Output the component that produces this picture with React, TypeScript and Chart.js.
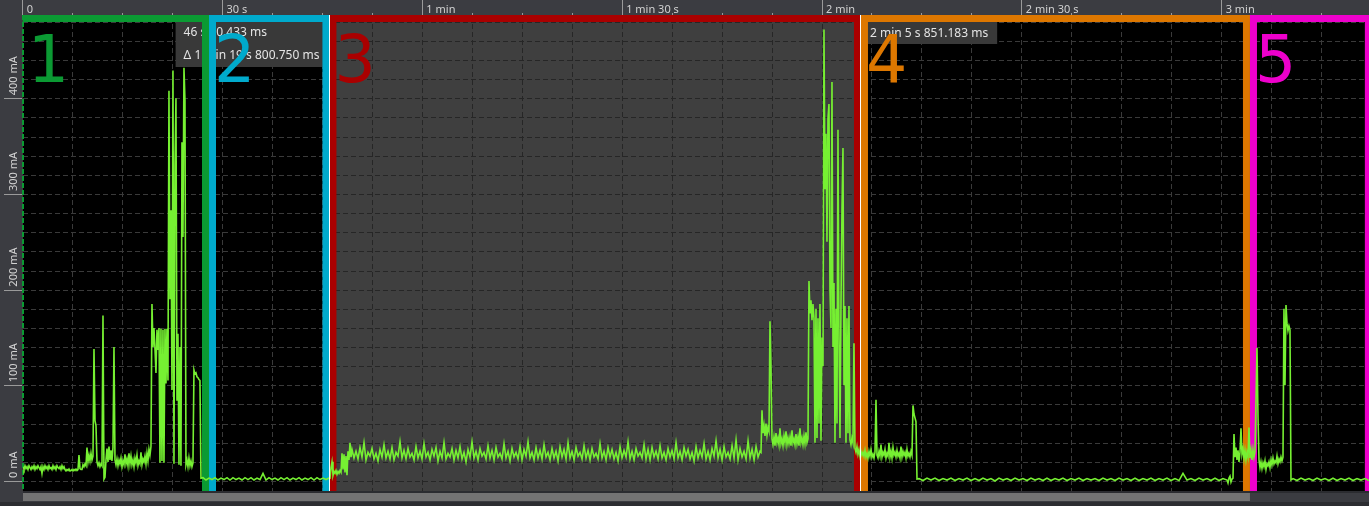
import React, { useEffect, useRef } from "react";
import { Chart, registerables } from "chart.js";

Chart.register(...registerables);

// ---------- axis ticks ----------
const majorTickSeconds = [0, 30, 60, 90, 120, 150, 180];
const majorTickLabels = ["0", "30 s", "1 min", "1 min 30 s", "2 min", "2 min 30 s", "3 min"];
const minorTickStep = 7.5;
const yTickValues = [0, 100, 200, 300, 400];
const yTickLabels = ["0 mA", "100 mA", "200 mA", "300 mA", "400 mA"];
const yGridStep = 20;

// ---------- regions ----------
const regionStarts = [0, 27.97, 46.05, 125.85, 184.25];
const regionEnds = [27.97, 46.05, 125.85, 184.25, 202.55];
const regionLabels = ["1", "2", "3", "4", "5"];
const regionColors = ["#0b9a33", "#00aacc", "#aa0000", "#dd7700", "#ee00cc"];
const regionShaded = [false, false, true, false, false];

// ---------- cursors ----------
const cursorTimes = [46.050433, 125.851183];

// ---------- current trace (mA), sampled segments: start time (s), sample step (s) ----------
const seg1Start = 0.045;
const seg1Step = 0.1501;
const seg1Values = [
  15, 12, 16, 13, 15, 12, 16, 14, 12, 15, 13, 16, 12, 15, 13, 16, 14, 12, 15,
  8,
  15, 12, 16, 13, 15, 12, 16, 13, 14, 12, 16, 13, 15, 12, 16, 14, 13, 15, 12, 16, 13, 15,
  12, 10.5, 12, 11, 12.5, 10.5, 11, 12, 10.5, 12, 11, 12.5, 11,
  12, 27,
  13, 12, 12,
  17, 15, 18, 16, 35,
  20, 27, 21, 29, 22, 26,
  138, 63, 58, 20,
  16, 19, 15, 18, 16,
  173, 2, 4,
  22, 34, 20, 36, 22, 32, 21, 35,
  140, 22,
  17, 23, 16, 22, 18, 24, 15, 21, 17, 28, 18, 23, 16, 29, 18, 26, 17, 22, 15, 24, 19, 27, 16, 21, 18, 30, 17, 23, 20, 26, 18, 29,
  21, 33, 27, 36,
  185, 140, 160, 138, 113, 158, 137, 160, 19, 159, 21, 158, 19, 159, 102, 159, 105, 408, 190, 283,
  95, 429, 18, 330, 400, 84, 154, 17, 140, 16, 354, 255, 432, 398, 17, 22, 15, 24, 16, 21,
  15, 19, 116, 112, 113, 109, 108, 106, 105,
  3,
];

const seg2Start = 27.068;
const seg2Step = 0.4504;
const seg2Values = [
  3.5, 1, 3, 1.5, 3.5, 1, 3, 1.5, 3.5, 1, 3.5, 1.5, 3, 1, 3.5, 1.5, 3.5, 1, 3, 1.5,
  8, 1, 3.5, 1.5, 3, 1, 3.5, 1.5, 3.5, 1, 3, 1.5, 3.5, 1, 3, 1.5, 3.5, 1, 3.5, 1.5,
  3, 1.5, 3,
];

const seg3Start = 46.135;
const seg3Step = 0.1501;
const seg3Values = [3, 14, 20, 6, 10, 8, 11, 7, 10, 8, 11, 9, 29, 12, 28, 9, 26, 6, 31, 22, 40, 25];

const seg4Start = 49.438;
const seg4Step = 0.3003;
const seg4Values = [
  33, 24, 31, 23, 35, 25, 40, 22, 30, 26,
  34, 23, 29, 21, 33, 25, 38, 24, 31, 23,
  35, 22, 30, 26, 41, 24, 32, 23, 34, 25,
  29, 22, 36, 24, 31, 23, 39, 25, 30, 22,
  33, 26, 35, 21, 31, 24, 40, 23, 29, 25,
  34, 22, 32, 24, 36, 23, 30, 20, 33, 25,
  41, 24, 31, 22, 34, 26, 30, 23, 37, 24,
  32, 22, 35, 25, 29, 23, 39, 24, 31, 21,
  34, 25, 30, 23, 36, 22, 33, 26, 41, 24,
  30, 22, 35, 24, 32, 23, 38, 25, 30, 22,
  34, 24, 31, 21, 36, 25, 33, 23, 40, 24,
  31, 22, 35, 26, 30, 23, 37, 24, 32, 22,
  34, 25, 29, 23, 39, 24, 31, 22, 35, 25,
  33, 23, 30, 21, 36, 24, 32, 25, 41, 23,
  31, 22, 34, 26, 30, 24, 38, 23, 33, 22,
  35, 25, 31, 23, 37, 24, 30, 22, 34, 25,
  32, 23, 40, 24, 31, 22, 35, 26, 33, 23,
  30, 21, 36, 24, 32, 25, 39, 23, 31, 22,
  34, 26, 42, 24, 33, 22, 36, 25, 30, 23,
  37, 24, 43, 22, 34, 25, 31, 23, 42, 24,
  33, 22, 36, 25, 31,
];

const seg5Start = 110.84;
const seg5Step = 0.1501;
const seg5Values = [
  30,
  74, 50, 58, 47, 60, 48, 56, 52, 167, 118,
  44, 38, 46, 37, 50, 40, 45, 38, 55, 39, 44, 37, 47, 40, 52, 38, 45, 39, 46, 37,
  53, 40, 44, 38, 49, 39, 46, 37, 55, 40, 45, 38, 47, 39, 51, 40, 44,
  209, 175, 189, 168, 185, 170, 40, 180, 45, 170,
  60, 185, 42, 150, 120, 472, 305, 363, 250, 379,
  394, 200, 160, 417, 140, 207, 40, 180, 60, 367,
  150, 45, 185, 284, 348, 100, 183, 40, 170, 50,
  183, 43, 38, 45, 40,
  144, 34, 30, 36, 28, 33, 26, 31, 27,
];

const seg6Start = 126.154;
const seg6Step = 0.1501;
const seg6Values = [
  30, 26, 32, 25, 29, 24, 31, 26, 33, 25, 28, 24, 30,
  85,
  27, 24, 31, 26, 38, 25, 30, 27, 33, 24, 29, 26, 40, 25, 31, 24, 35, 27, 30, 25,
  32, 26, 29, 24, 36, 25, 31, 27, 30, 24, 33, 26, 29, 25, 31, 27,
  79, 70, 66, 62,
  2,
];

const seg7Start = 134.561;
const seg7Step = 0.6005;
const seg7Values = [
  2.5, 0.5, 3, 1, 3, 0.5, 2.5, 1, 3, 0.5,
  2.5, 1, 3, 0.5, 2.5, 0.5, 3, 1, 2.5, 0,
  3, 1, 2.5, 0.5, 3, 1, 2.5, 0.5, 3, 1,
  2.5, 0.5, 3, 0.5, 2.5, 1, 3, 0.5, 2.5, 1,
  3, 0.5, 2.5, 1, 2.5, 0.5, 3, 1, 2.5, 0.5,
  3, 1, 2.5, 0.5, 3, 0.5, 2.5, 1, 3, 0.5,
  2.5, 1, 3, 0.5, 2.5, 0.5, 8, 1, 2.5, 0.5,
  3, 1, 2.5, 0.5, 3, 0.5, 2.5, 1,
];

const seg8Start = 180.951;
const seg8Step = 0.1501;
const seg8Values = [
  -2, 3, 5, -1, 2, 3, 49, 25, 35, 22, 32, 20, 30, 55, 28, 34, 24, 32, 22, 30,
  25, 56, 24, 32, 22, 33, 25, 31, 85, 139, 67, 22,
  14, 20, 13, 19, 15, 21, 12, 18, 16, 20, 14, 22, 17, 24, 18, 21, 19, 26, 18, 23, 20, 25, 21,
  25, 180, 100, 184, 165, 157, 162, 158, 1,
];

const seg9Start = 190.71;
const seg9Step = 0.6005;
const seg9Values = [2.5, 0.5, 3, 1, 2.5, 0.5, 3, 1, 2.5, 0.5, 3, 0.5, 2.5, 1, 3, 0.5, 2.5, 1, 2.5, 0.5];

const segments: [number, number, number[]][] = [
  [seg1Start, seg1Step, seg1Values],
  [seg2Start, seg2Step, seg2Values],
  [seg3Start, seg3Step, seg3Values],
  [seg4Start, seg4Step, seg4Values],
  [seg5Start, seg5Step, seg5Values],
  [seg6Start, seg6Step, seg6Values],
  [seg7Start, seg7Step, seg7Values],
  [seg8Start, seg8Step, seg8Values],
  [seg9Start, seg9Step, seg9Values],
];

// ---------- styles ----------
const AXIS_BG = "#3b3c41";
const PLOT_BG = "#000000";
const SHADE_BG = "#3f3f3f";
const GRID_ON_BLACK = "#3a3a3a";
const GRID_ON_SHADE = "#262626";
const TRACE = "rgb(118, 240, 50)";
const TEXT = "#d2d2d2";
const TICK = "#9a9a9a";
const SMALL_FONT = '11px "Noto Sans", "DejaVu Sans", sans-serif';
const TIP_FONT = '12px "Noto Sans", "DejaVu Sans", sans-serif';
const BIG_FONT = '65px "DejaVu Sans", sans-serif';

function formatTime(s: number): string {
  const min = Math.floor(s / 60);
  const sec = Math.floor(s - min * 60);
  const ms = (s - min * 60 - sec) * 1000;
  let out = "";
  if (min > 0) out += `${min} min `;
  out += `${sec} s ${ms.toFixed(3)} ms`;
  return out;
}

function drawGrid(ctx: CanvasRenderingContext2D, ca: any, xs: any, ys: any, color: string) {
  ctx.save();
  ctx.strokeStyle = color;
  ctx.lineWidth = 1;
  ctx.setLineDash([5, 3]);
  ctx.beginPath();
  for (let t = 0; t <= xs.max; t += minorTickStep) {
    const px = Math.floor(xs.getPixelForValue(t)) + 0.5;
    ctx.moveTo(px, ca.top);
    ctx.lineTo(px, ca.bottom);
  }
  for (let v = 0; v <= ys.max; v += yGridStep) {
    const py = Math.round(ys.getPixelForValue(v)) + 0.5;
    ctx.moveTo(ca.left, py);
    ctx.lineTo(ca.right, py);
  }
  ctx.stroke();
  ctx.restore();
}

const profilerPlugin = {
  id: "profilerDecor",
  beforeDraw(chart: any) {
    const { ctx, chartArea: ca } = chart;
    const xs = chart.scales.x;
    const ys = chart.scales.y;
    const W = chart.width;
    const H = chart.height;
    ctx.save();
    // backgrounds
    ctx.fillStyle = AXIS_BG;
    ctx.fillRect(0, 0, W, H);
    ctx.fillStyle = PLOT_BG;
    ctx.fillRect(ca.left, ca.top, ca.right - ca.left, ca.bottom - ca.top);
    drawGrid(ctx, ca, xs, ys, GRID_ON_BLACK);
    regionStarts.forEach((s, i) => {
      if (!regionShaded[i]) return;
      const x0 = xs.getPixelForValue(s);
      const x1 = xs.getPixelForValue(regionEnds[i]);
      ctx.save();
      ctx.beginPath();
      ctx.rect(x0, ca.top, x1 - x0, ca.bottom - ca.top);
      ctx.clip();
      ctx.fillStyle = SHADE_BG;
      ctx.fillRect(x0, ca.top, x1 - x0, ca.bottom - ca.top);
      drawGrid(ctx, ca, xs, ys, GRID_ON_SHADE);
      ctx.restore();
    });

    // top time axis
    ctx.strokeStyle = TICK;
    ctx.lineWidth = 1;
    ctx.beginPath();
    majorTickSeconds.forEach((t) => {
      const px = Math.floor(xs.getPixelForValue(t)) + 0.5;
      ctx.moveTo(px, 0);
      ctx.lineTo(px, 15);
    });
    for (let t = 0; t <= xs.max; t += minorTickStep) {
      const px = Math.floor(xs.getPixelForValue(t)) + 0.5;
      ctx.moveTo(px, 13);
      ctx.lineTo(px, 15);
    }
    ctx.stroke();
    ctx.fillStyle = TEXT;
    ctx.font = SMALL_FONT;
    ctx.textAlign = "left";
    ctx.textBaseline = "alphabetic";
    majorTickSeconds.forEach((t, i) => {
      const px = xs.getPixelForValue(t);
      ctx.fillText(majorTickLabels[i], px + 4, 13);
    });

    // left current axis
    ctx.beginPath();
    yTickValues.forEach((v) => {
      const py = Math.round(ys.getPixelForValue(v)) + 0.5;
      ctx.moveTo(4, py);
      ctx.lineTo(ca.left - 1, py);
    });
    ctx.stroke();
    yTickValues.forEach((v, i) => {
      const py = ys.getPixelForValue(v);
      ctx.save();
      ctx.translate(16.5, py - 3);
      ctx.rotate(-Math.PI / 2);
      ctx.fillText(yTickLabels[i], 0, 0);
      ctx.restore();
    });

    // cursor readouts
    ctx.font = TIP_FONT;
    const xa = xs.getPixelForValue(cursorTimes[0]);
    const xb = xs.getPixelForValue(cursorTimes[1]);
    const l1 = formatTime(cursorTimes[0]);
    const l2 = "Δ " + formatTime(cursorTimes[1] - cursorTimes[0]);
    const l3 = formatTime(cursorTimes[1]);
    const w1 = Math.max(ctx.measureText(l1).width, ctx.measureText(l2).width) + 12;
    const bx1 = xa - 6 - w1;
    ctx.fillStyle = "#393939";
    ctx.fillRect(bx1, 22, w1, 45);
    const w3 = ctx.measureText(l3).width + 12;
    const bx3 = xb + 6;
    ctx.fillRect(bx3, 22, w3, 22);
    ctx.fillStyle = "#e4e4e4";
    ctx.fillText(l1, bx1 + 8, 36);
    ctx.fillText(l2, bx1 + 8, 59);
    ctx.fillText(l3, bx3 + 3, 37);

    // region frames
    const barW = 7;
    const topY = 15;
    regionStarts.forEach((s, i) => {
      const x0 = xs.getPixelForValue(s);
      const x1 = xs.getPixelForValue(regionEnds[i]);
      ctx.fillStyle = regionColors[i];
      ctx.fillRect(x0, topY, x1 - x0, 7);
      if (i > 0) ctx.fillRect(x0, topY, barW, ca.bottom - topY);
      ctx.fillRect(x1 - barW, topY, barW, ca.bottom - topY);
    });
    // region 1 left border (dashed)
    ctx.strokeStyle = regionColors[0];
    ctx.lineWidth = 2;
    ctx.setLineDash([5, 2]);
    ctx.beginPath();
    ctx.moveTo(ca.left, topY);
    ctx.lineTo(ca.left, ca.bottom);
    ctx.stroke();
    ctx.setLineDash([]);
    ctx.restore();
  },
  afterDatasetsDraw(chart: any) {
    const { ctx, chartArea: ca } = chart;
    const xs = chart.scales.x;
    ctx.save();
    // big region numbers
    ctx.font = BIG_FONT;
    ctx.textAlign = "left";
    ctx.textBaseline = "alphabetic";
    regionStarts.forEach((s, i) => {
      ctx.fillStyle = regionColors[i];
      ctx.fillText(regionLabels[i], xs.getPixelForValue(s) + 5, 82);
    });
    // cursors
    ctx.strokeStyle = "#ffffff";
    ctx.lineWidth = 1;
    ctx.beginPath();
    cursorTimes.forEach((t) => {
      const px = Math.floor(xs.getPixelForValue(t)) + 0.5;
      ctx.moveTo(px, 15);
      ctx.lineTo(px, ca.bottom);
    });
    ctx.stroke();
    // bottom strip + scrollbar
    ctx.fillStyle = "#2b2c30";
    ctx.fillRect(ca.left, ca.bottom, chart.width - ca.left, 2);
    ctx.fillStyle = "#737373";
    const sbEnd = xs.getPixelForValue(regionStarts[4]);
    ctx.fillRect(ca.left, ca.bottom + 2, sbEnd - ca.left, 8);
    ctx.fillStyle = "#2c2d31";
    ctx.fillRect(0, chart.height - 4, chart.width, 4);
    ctx.restore();
  },
};

export default function App() {
  const canvasRef = useRef<HTMLCanvasElement | null>(null);

  useEffect(() => {
    const canvas = canvasRef.current;
    if (!canvas) return;
    const points: { x: number; y: number }[] = [];
    segments.forEach(([t0, dt, vals]) => {
      vals.forEach((v, i) => points.push({ x: t0 + i * dt, y: v }));
    });
    const chart = new Chart(canvas, {
      type: "line",
      data: {
        datasets: [
          {
            data: points,
            borderColor: TRACE,
            borderWidth: 1.6,
            pointRadius: 0,
            tension: 0,
            fill: false,
          },
        ],
      },
      options: {
        animation: false,
        responsive: false,
        maintainAspectRatio: false,
        devicePixelRatio: 1,
        events: [],
        layout: { padding: { left: 23, top: 16, right: 0, bottom: 15 } },
        scales: {
          x: { type: "linear", min: 0.045, max: 202.12, display: false },
          y: { type: "linear", min: -10.45, max: 486, display: false },
        },
        plugins: {
          legend: { display: false },
          tooltip: { enabled: false },
        },
      },
      plugins: [profilerPlugin],
    } as any);
    return () => chart.destroy();
  }, []);

  return (
    <div
      style={{
        position: "fixed",
        left: 0,
        top: 0,
        width: 1369,
        height: 506,
        background: AXIS_BG,
      }}
    >
      <canvas ref={canvasRef} width={1369} height={506} style={{ display: "block", width: 1369, height: 506 }} />
    </div>
  );
}
